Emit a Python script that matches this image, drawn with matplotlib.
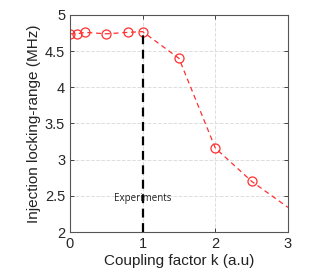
import matplotlib
matplotlib.use("Agg")
import matplotlib.pyplot as plt

plt.rcParams['font.family'] = ['Liberation Sans', 'DejaVu Sans']

k = [0, 0.1, 0.2, 0.5, 0.8, 1.0, 1.5, 2.0, 2.5, 3.0]
locking = [4.74, 4.74, 4.76, 4.74, 4.76, 4.77, 4.40, 3.16, 2.70, 2.34]
exp_k = 1.0
exp_top = 4.77

fig = plt.figure(figsize=(3.34, 2.76), dpi=100)
ax = fig.add_axes([70/334, 1 - 232/276, 218/334, 217/276])

ax.plot(k, locking, '--', color='#ff3030', lw=0.9, dashes=(4, 3))
ax.plot(k[:-1], locking[:-1], 'o', mfc='none', mec='#ff3030', ms=6.5, mew=0.9)
ax.plot([exp_k, exp_k], [2, exp_top], '--', color='black', lw=1.6, dashes=(4, 2.5))
ax.text(exp_k, 2.47, 'Experiments', ha='center', va='center', fontsize=7,
        family=['Open Sans', 'DejaVu Sans'], color='#222222')

ax.set_xlim(0, 3)
ax.set_ylim(2, 5)
ax.set_xticks([0, 1, 2, 3])
ax.set_yticks([2, 2.5, 3, 3.5, 4, 4.5, 5])
ax.set_yticklabels(['2', '2.5', '3', '3.5', '4', '4.5', '5'])
ax.grid(True, ls='--', color='#dddddd', lw=0.7)
ax.set_axisbelow(True)
ax.tick_params(direction='in', length=3, width=0.6, colors='#262626',
               labelsize=10.5, top=True, right=True)
for s in ax.spines.values():
    s.set_color('#555555')
    s.set_linewidth(0.8)
ax.set_xlabel('Coupling factor k (a.u)', fontsize=11, color='#222222', labelpad=2)
ax.set_ylabel('Injection locking-range (MHz)', fontsize=11, color='#222222', labelpad=3)

fig.savefig('out.png', dpi=100)
